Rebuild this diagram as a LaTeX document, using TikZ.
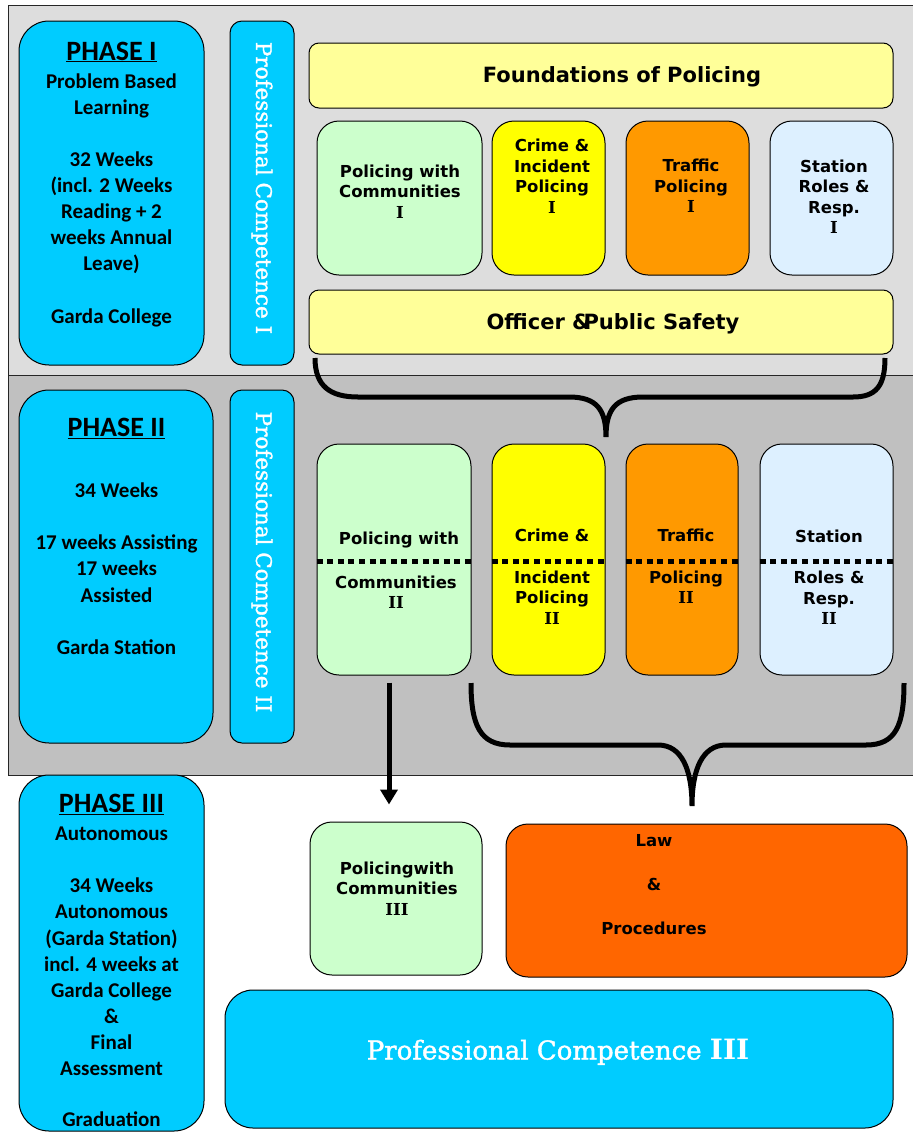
\documentclass[tikz,border=0pt]{standalone}
\usepackage{fontspec}
\setmainfont{Carlito}
\newfontfamily\modfont{DejaVu Sans}
\newfontfamily\pcfont{DejaVu Serif}
\newfontfamily\pcheavy{DejaVu Serif}[FakeBold=1.5]
\usetikzlibrary{arrows.meta}

\definecolor{panelone}{HTML}{DDDDDD}
\definecolor{paneltwo}{HTML}{C0C0C0}
\definecolor{phcyan}{HTML}{00CCFF}
\definecolor{paleyel}{HTML}{FFFF99}
\definecolor{modgreen}{HTML}{CCFFCC}
\definecolor{modyel}{HTML}{FFFF00}
\definecolor{modorange}{HTML}{FF9900}
\definecolor{modblue}{HTML}{DDF0FF}
\definecolor{laworange}{HTML}{FF6600}

\newcommand{\modnum}[1]{{\pcfont\bfseries #1}}

\tikzset{
  panel/.style={draw=black!85, line width=1pt},
  phasebox/.style={draw=black, line width=1pt, fill=phcyan, rounded corners=30pt},
  pcbox/.style={draw=black, line width=1pt, fill=phcyan, rounded corners=12pt},
  modbox/.style={draw=black, line width=1pt, rounded corners=22pt},
  barbox/.style={draw=black, line width=1pt, fill=paleyel, rounded corners=10pt},
  phtext/.style={font=\bfseries\fontsize{21}{26.1}\selectfont, align=center},
  modtext/.style={font=\modfont\bfseries\fontsize{16.5}{20.5}\selectfont, align=center},
  bartext/.style={font=\modfont\bfseries\fontsize{21}{25}\selectfont},
  pctext/.style={font=\pcheavy\fontsize{21.5}{25}\selectfont, text=white},
  divider/.style={line width=5pt, dash pattern=on 6pt off 4.6pt},
  brace/.style={line width=5pt},
  downarrow/.style={line width=5pt, -{Triangle[width=17pt,length=15pt]}}
}

\begin{document}
\begin{tikzpicture}[x=1pt,y=-1pt]
\tikzstyle{every node}+=[inner sep=0pt]
\clip (0,0) rectangle (913,1133);

% phase panels
\draw [panel, fill=panelone] (8,5) rectangle (930,375);
\draw [panel, fill=paneltwo] (8,375) rectangle (930,775);

% phase I
\node [phasebox, minimum width=185pt, minimum height=344pt] (ph1) at (111.5,193) {};
\node [phtext, anchor=north] (ph1txt) at (111.5,41.5) {{\fontsize{28}{30}\selectfont\underline{PHASE I}}\\[2pt]
  Problem Based\\ Learning\\[26.1pt] 32 Weeks\\ (incl. 2 Weeks\\ Reading + 2\\ weeks Annual\\ Leave)\\[26.1pt] Garda College};
\node [pcbox, minimum width=64pt, minimum height=344pt] (pc1) at (262,193) {};
\node [pctext, rotate=-90] (pc1txt) at (262,188) {Professional Competence I};

\node [barbox, minimum width=584pt, minimum height=65pt] (found) at (601,75.5) {};
\node [bartext] (foundtxt) at (622,77) {Foundations of Policing};

\node [modbox, fill=modgreen, minimum width=165pt, minimum height=154pt] (pwc1) at (399.5,198) {};
\node [modtext] (pwc1txt) at (400,191.5) {Policing with\\ Communities\\ \modnum{I}};
\node [modbox, fill=modyel, minimum width=113pt, minimum height=154pt] (crime1) at (548.5,198) {};
\node [modtext] (crime1txt) at (552,176) {Crime \&\\ Incident\\ Policing\\ \modnum{I}};
\node [modbox, fill=modorange, minimum width=123pt, minimum height=154pt] (traffic1) at (687.5,198) {};
\node [modtext] (traffic1txt) at (691,186) {Traffic\\ Policing\\ \modnum{I}};
\node [modbox, fill=modblue, minimum width=123pt, minimum height=154pt] (station1) at (831.5,198) {};
\node [modtext] (station1txt) at (834,196.5) {Station\\ Roles \&\\ Resp.\\ \modnum{I}};

\node [barbox, minimum width=584pt, minimum height=64pt] (officer) at (601,322) {};
\node [bartext] (officertxt) at (613,324) {Officer \&\kern-7pt Public Safety};

% brace I -> II
\coordinate (b1l) at (315,358);
\coordinate (b1r) at (885,358);
\coordinate (b1tip) at (606,437);
\draw [brace] (b1l) .. controls (315,386) and (330,397) .. (358,397) -- (569,397)
  .. controls (597,397) and (606,410) .. (b1tip)
  .. controls (606,410) and (615,397) .. (643,397) -- (853,397)
  .. controls (876,397) and (885,386) .. (b1r);

% phase II
\node [phasebox, minimum width=194pt, minimum height=353pt] (ph2) at (116,566.5) {};
\node [phtext, anchor=north] (ph2txt) at (116.5,418) {{\fontsize{28}{30}\selectfont\underline{PHASE II}}\\[35pt]
  34 Weeks\\[26.1pt] 17 weeks Assisting\\ 17 weeks\\ Assisted\\[26.1pt] Garda Station};
\node [pcbox, minimum width=64pt, minimum height=353pt] (pc2) at (262,566.5) {};
\node [pctext, rotate=-90] (pc2txt) at (262,562) {Professional Competence II};

\node [modbox, fill=modgreen, minimum width=154pt, minimum height=231pt] (pwc2) at (394,559.5) {};
\node [modbox, fill=modyel, minimum width=113pt, minimum height=231pt] (crime2) at (548.5,559.5) {};
\node [modbox, fill=modorange, minimum width=112pt, minimum height=231pt] (traffic2) at (682,559.5) {};
\node [modbox, fill=modblue, minimum width=133pt, minimum height=231pt] (station2) at (826.5,559.5) {};
\foreach \m in {pwc2,crime2,traffic2,station2}
  \draw [divider] ([yshift=-1.5pt]\m.west) -- ([yshift=-1.5pt]\m.east);

\node [modtext] (pwc2top) at (399,540) {Policing with};
\node [modtext] (pwc2txt) at (396,592) {Communities\\ \modnum{II}};
\node [modtext] (crime2top) at (552,535) {Crime \&};
\node [modtext] (crime2txt) at (552,597.5) {Incident\\ Policing\\ \modnum{II}};
\node [modtext] (traffic2top) at (686,535) {Traffic};
\node [modtext] (traffic2txt) at (686,587) {Policing\\ \modnum{II}};
\node [modtext] (station2top) at (829,536) {Station};
\node [modtext] (station2txt) at (829,598) {Roles \&\\ Resp.\\ \modnum{II}};

% phase III
\node [phasebox, minimum width=185pt, minimum height=356pt] (ph3) at (111.5,953) {};
\node [phtext, anchor=north] (ph3txt) at (111.5,794) {{\fontsize{28}{30}\selectfont\underline{PHASE III}}\\[2pt]
  Autonomous\\[26.1pt] 34 Weeks\\ Autonomous\\ (Garda Station)\\ incl. 4 weeks at\\ Garda College\\ \&\\ Final\\ Assessment\\[25pt] Graduation};

\node [modbox, fill=modgreen, minimum width=172pt, minimum height=153pt] (pwc3) at (396,898.5) {};
\node [modtext] (pwc3txt) at (397,888.5) {Policingwith\\ Communities\\ \modnum{III}};
\node [modbox, fill=laworange, minimum width=401pt, minimum height=153pt] (law) at (706.5,900.5) {};
\node [modtext] (lawtxt) at (654,885) {Law\\[23.5pt] \&\\[23.5pt] Procedures};

\node [pcbox, rounded corners=28pt, minimum width=668pt, minimum height=138pt] (pc3) at (559,1059) {};
\node [pctext, font=\pcheavy\fontsize{26}{30}\selectfont] (pc3txt) at (558,1052) {Professional Competence {\pcfont\bfseries\fontsize{28}{30}\selectfont III}};

% II -> III
\draw [downarrow, shorten <=7pt, shorten >=17pt] ([xshift=-5pt]pwc2.south) -- ([xshift=-5pt]pwc2.south |- pwc3.north);
\coordinate (b2l) at (471,683);
\coordinate (b2r) at (904,683);
\coordinate (b2tip) at (692,806);
\draw [brace] (b2l) .. controls (471,725) and (480,745) .. (510,745) -- (658,745)
  .. controls (682,745) and (692,770) .. (b2tip)
  .. controls (692,770) and (702,745) .. (726,745) -- (866,745)
  .. controls (896,745) and (904,725) .. (b2r);
\end{tikzpicture}
\end{document}
